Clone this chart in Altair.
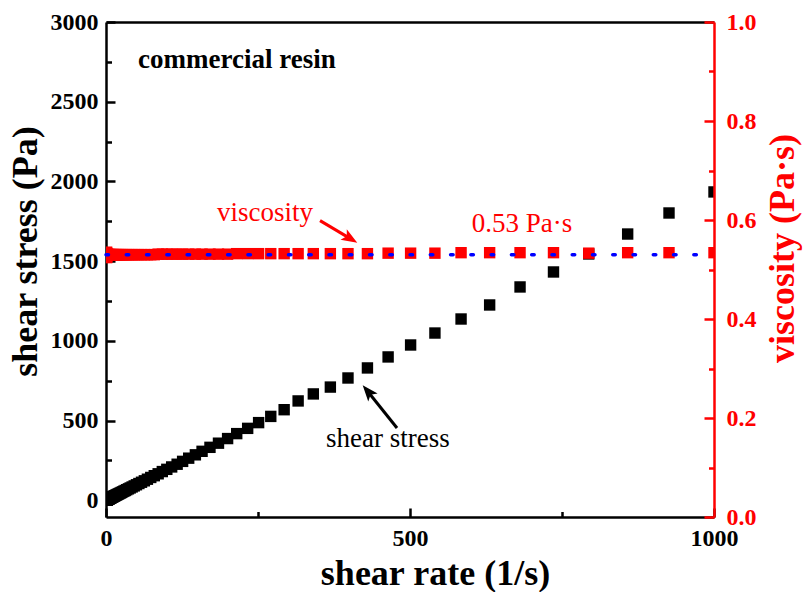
import altair as alt
import pandas as pd

# ---- data ----
shear_rate = [1.00, 1.08, 1.17, 1.26, 1.36, 1.47, 1.58, 1.71, 1.85, 2.00,
              2.15, 2.33, 2.51, 2.71, 2.93, 3.16, 3.41, 3.69, 3.98, 4.30,
              4.64, 5.01, 5.41, 5.84, 6.31, 6.81, 7.36, 7.94, 8.58, 9.26,
              10.0, 10.8, 11.7, 12.6, 13.6, 14.7, 15.8, 17.1, 18.5, 20.0,
              21.5, 23.3, 25.1, 27.1, 29.3, 31.6, 34.1, 36.9, 39.8, 43.0,
              46.4, 50.1, 54.1, 58.4, 63.1, 68.1, 73.6, 79.4, 85.8, 92.6,
              100, 108, 117, 126, 136, 147, 158, 171, 185, 200,
              215, 233, 251, 271, 293, 316, 341, 369, 398, 430,
              464, 501, 541, 584, 631, 681, 736, 794, 858, 926, 1000]

shear_stress = [1.9, 2.1, 2.3, 2.4, 2.6, 2.9, 3.1, 3.3, 3.6, 3.9,
                4.2, 4.5, 4.9, 5.3, 5.7, 6.1, 6.6, 7.2, 7.7, 8.3,
                9.0, 9.7, 10.5, 11.3, 12.2, 13.2, 14.3, 15.4, 16.6, 18.0,
                19.4, 21.0, 22.7, 24.4, 26.4, 28.5, 30.7, 33.2, 35.9, 38.8,
                41.7, 45.2, 48.7, 52.6, 56.8, 61.3, 66.2, 71.6, 77.2, 83.4,
                90.0, 97.2, 105, 113, 122, 132, 143, 154, 166, 180,
                194, 209, 226, 244, 264, 285, 307, 332, 358, 387,
                418, 451, 487, 526, 568, 623, 667, 710, 767, 830,
                899, 974, 1049, 1137, 1225, 1338, 1432, 1545, 1670, 1802, 1934]

viscosity = [0.535, 0.524, 0.533, 0.526, 0.531, 0.528, 0.530, 0.529, 0.530, 0.529,
             0.530, 0.530, 0.529, 0.530, 0.530, 0.530, 0.529, 0.530, 0.530, 0.530,
             0.530, 0.530, 0.530, 0.530, 0.530, 0.530, 0.530, 0.530, 0.530, 0.530,
             0.530, 0.530, 0.530, 0.530, 0.530, 0.530, 0.530, 0.530, 0.530, 0.530,
             0.530, 0.530, 0.530, 0.530, 0.530, 0.530, 0.530, 0.530, 0.530, 0.530,
             0.530, 0.530, 0.530, 0.530, 0.530, 0.530, 0.530, 0.530, 0.531, 0.531,
             0.531, 0.531, 0.531, 0.531, 0.531, 0.531, 0.531, 0.531, 0.531, 0.531,
             0.532, 0.532, 0.532, 0.532, 0.532, 0.532, 0.532, 0.532, 0.532, 0.532,
             0.533, 0.533, 0.533, 0.534, 0.534, 0.534, 0.534, 0.533, 0.534, 0.534, 0.534]

fit_viscosity = [0.53]
fit_range = [0, 1000]

x_major_ticks = [0, 500, 1000]
x_minor_ticks = [250, 750]
stress_major_ticks = [0, 500, 1000, 1500, 2000, 2500, 3000]
stress_minor_ticks = [250, 750, 1250, 1750, 2250, 2750]
visc_major_ticks = [0.0, 0.2, 0.4, 0.6, 0.8, 1.0]
visc_minor_ticks = [0.1, 0.3, 0.5, 0.7, 0.9]

# annotation texts (positions in shear-rate / shear-stress units)
note_text = ["commercial resin", "viscosity", "0.53 Pa\u00b7s", "shear stress"]
note_rate = [52.6, 182.6, 601.5, 361.8]
note_stress = [2711, 1752, 1685, 334]
note_color = ["#000000", "#ff0000", "#ff0000", "#000000"]
note_weight = ["bold", "normal", "normal", "normal"]

# arrows: tail -> tip (shear-rate / shear-stress units)
arrow_tail_rate = [352.0, 478.6]
arrow_tail_stress = [1754, 453]
arrow_end_rate = [401.9, 430.6]
arrow_end_stress = [1641, 682]
arrow_tip_rate = [413.3, 422.2]
arrow_tip_stress = [1616, 721]
arrow_angle = [121, 320]
arrow_color = ["#ff0000", "#000000"]

# ---- styling ----
FONT = "Liberation Serif"
RED = "#ff0000"
BLUE = "#0000ff"
X_DOMAIN = [0, 1000]
S_DOMAIN = [-105, 3000]
V_DOMAIN = [0, 1]

df = pd.DataFrame({"rate": shear_rate, "stress": shear_stress, "visc": viscosity})
fit_df = pd.DataFrame({"x0": [fit_range[0]], "x1": [fit_range[1]], "v": fit_viscosity})
notes_df = pd.DataFrame({"text": note_text, "rate": note_rate, "stress": note_stress,
                         "color": note_color, "weight": note_weight})
arrows_df = pd.DataFrame({
    "r0": arrow_tail_rate, "s0": arrow_tail_stress,
    "r1": arrow_end_rate, "s1": arrow_end_stress,
    "rt": arrow_tip_rate, "st": arrow_tip_stress,
    "angle": arrow_angle, "color": arrow_color,
})


def xs():
    return alt.Scale(domain=X_DOMAIN, nice=False, zero=False)


def ss():
    return alt.Scale(domain=S_DOMAIN, nice=False, zero=False)


def vs():
    return alt.Scale(domain=V_DOMAIN, nice=False, zero=False)


def ticks_axis(orient, values, size, color, **kw):
    return alt.Axis(orient=orient, values=values, offset=-size, tickSize=size,
                    tickWidth=2.5, tickColor=color, domain=False, grid=False,
                    labels=False, title=None, **kw)


def domain_axis(orient, color, **kw):
    return alt.Axis(orient=orient, domain=True, domainColor=color, domainWidth=2.5,
                    ticks=False, labels=False, grid=False, title=None, **kw)


LABEL_SIZE = 24
TITLE_SIZE = 36

x_major = alt.Axis(
    orient="bottom", values=x_major_ticks, offset=-9, tickSize=9, tickWidth=2.5,
    tickColor="black", domain=False, grid=False, format="d",
    labelFont=FONT, labelFontSize=LABEL_SIZE, labelFontWeight="bold", labelColor="black",
    labelPadding=9, labelFlush=False, labelOverlap=False,
    title="shear rate (1/s)", titleFont=FONT, titleFontSize=TITLE_SIZE, titleFontWeight="bold",
    titleColor="black", titleX=329, titleY=76, titleAlign="center",
    titleBaseline="alphabetic",
)
y_major_left = alt.Axis(
    orient="left", values=stress_major_ticks, offset=-9, tickSize=9, tickWidth=2.5,
    tickColor="black", domain=False, grid=False, format="d",
    labelFont=FONT, labelFontSize=LABEL_SIZE, labelFontWeight="bold", labelColor="black",
    labelPadding=8, labelFlush=False, labelOverlap=False,
    title="shear stress (Pa)", titleFont=FONT, titleFontSize=TITLE_SIZE, titleFontWeight="bold",
    titleColor="black", titleX=-79, titleY=229, titleAngle=270, titleAlign="center",
    titleBaseline="alphabetic",
)
y_major_right = alt.Axis(
    orient="right", values=visc_major_ticks, offset=-10, tickSize=10, tickWidth=2.5,
    tickColor=RED, domain=False, grid=False, format=".1f",
    labelFont=FONT, labelFontSize=LABEL_SIZE, labelFontWeight="bold", labelColor=RED,
    labelPadding=12, labelFlush=False, labelOverlap=False,
    title="viscosity (Pa\u00b7s)", titleFont=FONT, titleFontSize=TITLE_SIZE, titleFontWeight="bold",
    titleColor=RED, titleX=89, titleY=226, titleAngle=270, titleAlign="center",
    titleBaseline="alphabetic", zindex=1,
)

base = alt.Chart(df)
pt = dict(shape="square", filled=True, size=130, clip=True, strokeWidth=0)

stress_pts = base.mark_point(color="black", opacity=1, **pt).encode(
    x=alt.X("rate:Q", scale=xs(), axis=x_major),
    y=alt.Y("stress:Q", scale=ss(), axis=y_major_left),
)
stress_minor = base.mark_point(opacity=0).encode(
    x=alt.X("rate:Q", scale=xs(), axis=ticks_axis("bottom", x_minor_ticks, 5.5, "black")),
    y=alt.Y("stress:Q", scale=ss(), axis=ticks_axis("left", stress_minor_ticks, 5.5, "black")),
)
frame_lb = base.mark_point(opacity=0).encode(
    x=alt.X("rate:Q", scale=xs(), axis=domain_axis("bottom", "black")),
    y=alt.Y("stress:Q", scale=ss(), axis=domain_axis("left", "black")),
)
frame_top = base.mark_point(opacity=0).encode(
    x=alt.X("rate:Q", scale=xs(), axis=domain_axis("top", "black")),
    y=alt.Y("stress:Q", scale=ss(), axis=None),
)
visc_pts = base.mark_point(color=RED, opacity=1, **pt).encode(
    x=alt.X("rate:Q", scale=xs(), axis=None),
    y=alt.Y("visc:Q", scale=vs(), axis=y_major_right),
)
fit_line = alt.Chart(fit_df).mark_rule(
    color=BLUE, strokeWidth=3.5, strokeDash=[2.5, 17.77], strokeCap="round"
).encode(
    x=alt.X("x0:Q", scale=xs(), axis=None),
    x2="x1:Q",
    y=alt.Y("v:Q", scale=vs(), axis=ticks_axis("right", visc_minor_ticks, 5.5, RED, zindex=1)),
)
frame_r = base.mark_point(opacity=0).encode(
    x=alt.X("rate:Q", scale=xs(), axis=None),
    y=alt.Y("visc:Q", scale=vs(), axis=domain_axis("right", RED, zindex=1)),
)


def note_layer(weight):
    return alt.Chart(notes_df).transform_filter(
        alt.datum.weight == weight
    ).mark_text(
        font=FONT, fontSize=27, fontWeight=weight, align="left", baseline="alphabetic"
    ).encode(
        x=alt.X("rate:Q", scale=xs(), axis=None),
        y=alt.Y("stress:Q", scale=ss(), axis=None),
        text="text:N",
        color=alt.Color("color:N", scale=None),
    )


notes_bold = note_layer("bold")
notes_plain = note_layer("normal")

arrow_lines = alt.Chart(arrows_df).mark_rule(strokeWidth=3).encode(
    x=alt.X("r0:Q", scale=xs(), axis=None),
    y=alt.Y("s0:Q", scale=ss(), axis=None),
    x2="r1:Q",
    y2="s1:Q",
    color=alt.Color("color:N", scale=None),
)
arrow_heads = alt.Chart(arrows_df).mark_point(
    shape="M0,0L0.5,1.3L0,1L-0.5,1.3Z", filled=True, size=600, opacity=1, strokeWidth=0
).encode(
    x=alt.X("rt:Q", scale=xs(), axis=None),
    y=alt.Y("st:Q", scale=ss(), axis=None),
    angle=alt.Angle("angle:Q", scale=None),
    color=alt.Color("color:N", scale=None),
)

chart = alt.layer(
    frame_lb, frame_top, stress_minor, stress_pts, visc_pts, fit_line, frame_r,
    notes_bold, notes_plain, arrow_lines, arrow_heads,
).resolve_scale(
    y="independent"
).resolve_axis(
    x="independent", y="independent"
).properties(
    width=608, height=495,
    padding={"left": 106, "top": 22, "right": 91, "bottom": 75},
    autosize=alt.AutoSizeParams(type="none"),
    background="white",
).configure_view(strokeWidth=0)

chart.save("out.html", embed_options={"renderer": "svg", "actions": False})
